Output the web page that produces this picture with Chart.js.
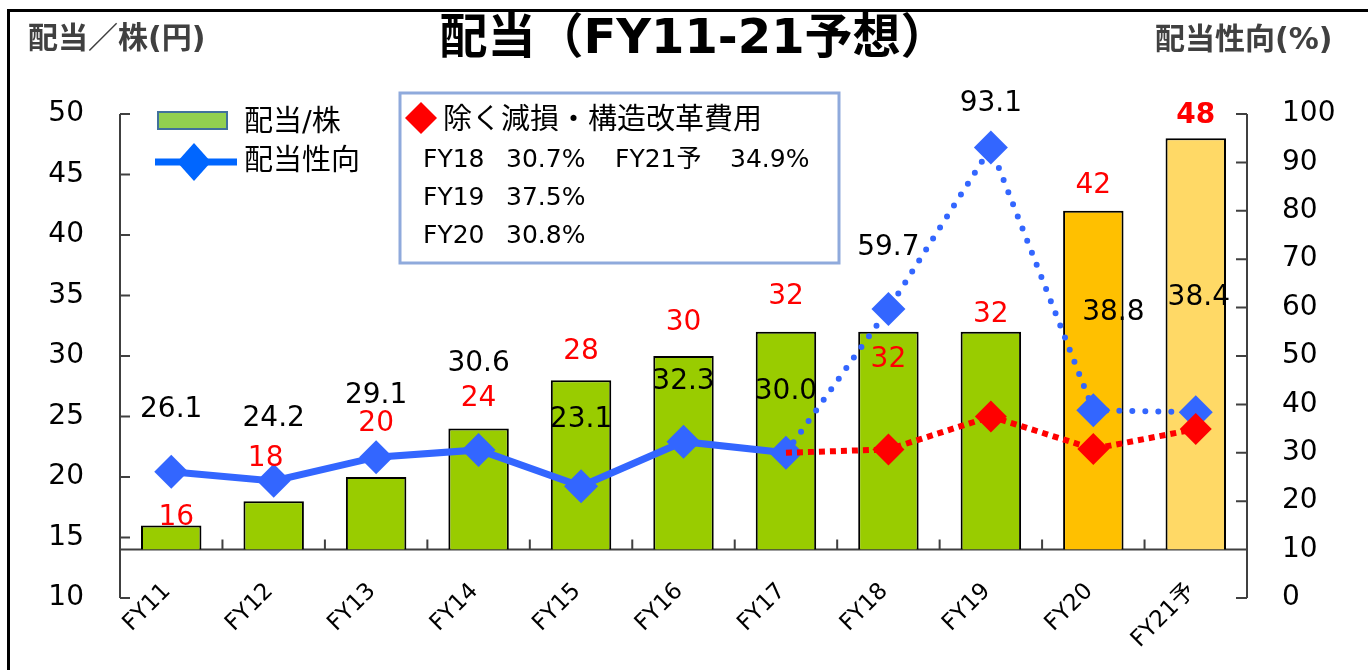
<!DOCTYPE html>
<html lang="ja">
<head>
<meta charset="utf-8">
<title>配当（FY11-21予想）</title>
<script src="https://cdn.jsdelivr.net/npm/chart.js@4.4.1/dist/chart.umd.min.js"></script>
<style>
  html, body { margin: 0; padding: 0; background: #fff; }
  #wrap { width: 1368px; height: 670px; }
</style>
</head>
<body>
<div id="wrap"><canvas id="dividendChart" width="1368" height="670"></canvas></div>
<script>
"use strict";

// data
const categories = ['FY11', 'FY12', 'FY13', 'FY14', 'FY15', 'FY16', 'FY17', 'FY18', 'FY19', 'FY20', 'FY21予'];
const dividend = [16, 18, 20, 24, 28, 30, 32, 32, 32, 42, 48];            // 配当/株 (円)
const payoutRatio = [26.1, 24.2, 29.1, 30.6, 23.1, 32.3, 30.0, 59.7, 93.1, 38.8, 38.4]; // 配当性向 (%)
const payoutExCharges = [null, null, null, null, null, null, 30.0, 30.7, 37.5, 30.8, 34.9]; // 除く減損・構造改革費用
const leftTicks = [10, 15, 20, 25, 30, 35, 40, 45, 50];
const rightTicks = [0, 10, 20, 30, 40, 50, 60, 70, 80, 90, 100];
const barBase = 14; // bars stand on the category axis (right axis 10%)

const noteTitle = '除く減損・構造改革費用';
const noteRows = [
  ['FY18', '30.7%', 'FY21予', '34.9%'],
  ['FY19', '37.5%'],
  ['FY20', '30.8%']
];

// label nudges (px) relative to bar top / point, like the hand placed Excel labels
const dividendLabelShift = [[5, -8], [-8, -42], [0, -53], [0, -30], [0, -28], [0, -33], [0, -35], [0, 28], [0, -17], [0, -25], [0, -22]];
const payoutLabelShift = [[0, -62], [0, -62], [0, -61], [0, -86], [0, -66], [0, -60], [0, -61], [0, -61], [0, -44], [20, -97], [3, -114]];

const FONT = "'DejaVu Sans', 'Noto Sans CJK JP', sans-serif";
const barColors = dividend.map((v, i) => i === 9 ? '#ffc000' : i === 10 ? '#ffd966' : '#99cc00');

Chart.defaults.font.family = FONT;

// axes are drawn by hand: Excel style inside ticks, category axis at the bar base
const axisLines = {
  id: 'axisLines',
  beforeDatasetsDraw(chart) {
    const { ctx, chartArea: area, scales: { x, y, y2 } } = chart;
    const baseY = y.getPixelForValue(barBase);
    ctx.save();
    ctx.strokeStyle = '#404040';
    ctx.lineWidth = 2;
    ctx.beginPath();
    ctx.moveTo(area.left, area.top);
    ctx.lineTo(area.left, area.bottom);
    leftTicks.forEach(v => {
      const py = y.getPixelForValue(v);
      ctx.moveTo(area.left, py);
      ctx.lineTo(area.left + 10, py);
    });
    ctx.moveTo(area.right, area.top);
    ctx.lineTo(area.right, area.bottom);
    rightTicks.forEach(v => {
      const py = y2.getPixelForValue(v);
      ctx.moveTo(area.right - 11, py);
      ctx.lineTo(area.right, py);
    });
    ctx.moveTo(area.left, baseY);
    ctx.lineTo(area.right, baseY);
    for (let i = 1; i < categories.length; i++) {
      const px = (x.getPixelForValue(i - 1) + x.getPixelForValue(i)) / 2;
      ctx.moveTo(px, baseY);
      ctx.lineTo(px, baseY - 10);
    }
    ctx.stroke();

    // category labels, rotated 45deg, ending under each category
    ctx.fillStyle = '#000';
    ctx.font = '23px ' + FONT;
    ctx.textAlign = 'right';
    ctx.textBaseline = 'middle';
    categories.forEach((cat, i) => {
      ctx.save();
      ctx.translate(x.getPixelForValue(i) - 4, baseY + 38);
      ctx.rotate(-Math.PI / 4);
      ctx.fillText(cat, 0, 0);
      ctx.restore();
    });
    ctx.restore();
  }
};

const valueLabels = {
  id: 'valueLabels',
  afterDatasetsDraw(chart) {
    const { ctx } = chart;
    const bars = chart.getDatasetMeta(0).data;
    const points = chart.getDatasetMeta(1).data;
    ctx.save();
    ctx.textAlign = 'center';
    ctx.textBaseline = 'middle';
    bars.forEach((bar, i) => {
      ctx.font = (i === dividend.length - 1 ? 'bold ' : '') + '28px ' + FONT;
      ctx.fillStyle = '#ff0000';
      ctx.fillText(String(dividend[i]), bar.x + dividendLabelShift[i][0], bar.y + dividendLabelShift[i][1]);
    });
    ctx.font = '28px ' + FONT;
    ctx.fillStyle = '#000';
    points.forEach((pt, i) => {
      ctx.fillText(payoutRatio[i].toFixed(1), pt.x + payoutLabelShift[i][0], pt.y + payoutLabelShift[i][1]);
    });
    ctx.restore();
  }
};

const diamond = (ctx, cx, cy, hw, hh, color) => {
  ctx.fillStyle = color;
  ctx.beginPath();
  ctx.moveTo(cx, cy - hh);
  ctx.lineTo(cx + hw, cy);
  ctx.lineTo(cx, cy + hh);
  ctx.lineTo(cx - hw, cy);
  ctx.closePath();
  ctx.fill();
};

const decorations = {
  id: 'decorations',
  afterDraw(chart) {
    const { ctx } = chart;
    ctx.save();
    // frame
    ctx.strokeStyle = '#000';
    ctx.lineWidth = 3;
    ctx.beginPath();
    ctx.moveTo(8.5, 670);
    ctx.lineTo(8.5, 10.5);
    ctx.lineTo(1368, 10.5);
    ctx.stroke();

    // titles
    ctx.textBaseline = 'middle';
    ctx.textAlign = 'center';
    ctx.fillStyle = '#000';
    ctx.font = 'bold 48px ' + FONT;
    ctx.fillText('配当（FY11-21予想）', 694, 41);
    ctx.textAlign = 'left';
    ctx.fillStyle = '#404040';
    ctx.font = 'bold 30px ' + FONT;
    ctx.fillText('配当／株(円)', 28, 40);
    ctx.fillText('配当性向(%)', 1155, 41);

    // legend
    ctx.fillStyle = '#92d050';
    ctx.fillRect(158, 112, 69, 17);
    ctx.strokeStyle = '#41719c';
    ctx.lineWidth = 2;
    ctx.strokeRect(158, 112, 69, 17);
    ctx.strokeStyle = '#0066ff';
    ctx.lineWidth = 7;
    ctx.beginPath();
    ctx.moveTo(155, 162);
    ctx.lineTo(237, 162);
    ctx.stroke();
    diamond(ctx, 194, 162, 17, 19, '#0066ff');
    ctx.fillStyle = '#000';
    ctx.font = '29px ' + FONT;
    ctx.fillText('配当/株', 244, 123);
    ctx.fillText('配当性向', 244, 162);

    // note box
    ctx.fillStyle = '#fff';
    ctx.fillRect(400, 93, 439, 170);
    ctx.strokeStyle = '#8faadc';
    ctx.lineWidth = 3;
    ctx.strokeRect(400, 93, 439, 170);
    diamond(ctx, 421, 118, 16, 16, '#ff0000');
    ctx.fillStyle = '#000';
    ctx.font = '29px ' + FONT;
    ctx.fillText(noteTitle, 443, 121);
    ctx.font = '25px ' + FONT;
    const cols = [423, 506, 615, 730];
    noteRows.forEach((row, r) => {
      row.forEach((txt, c) => ctx.fillText(txt, cols[c], 160 + r * 38));
    });
    ctx.restore();
  }
};

new Chart(document.getElementById('dividendChart'), {
  data: {
    labels: categories,
    datasets: [
      {
        type: 'bar',
        label: '配当/株',
        data: dividend,
        yAxisID: 'y',
        base: barBase,
        backgroundColor: barColors,
        borderColor: '#000',
        borderWidth: 2,
        categoryPercentage: 1,
        barPercentage: 0.59,
        order: 3
      },
      {
        type: 'line',
        label: '配当性向',
        data: payoutRatio,
        yAxisID: 'y2',
        borderColor: '#3366ff',
        borderWidth: 7,
        pointStyle: 'rectRot',
        pointRadius: 17,
        pointBackgroundColor: '#3366ff',
        pointBorderWidth: 0,
        segment: {
          borderDash: c => c.p0DataIndex >= 6 ? [0, 13] : undefined,
          borderWidth: c => c.p0DataIndex >= 6 ? 6 : undefined,
          borderCapStyle: c => c.p0DataIndex >= 6 ? 'round' : undefined
        },
        order: 2
      },
      {
        type: 'line',
        label: '除く減損・構造改革費用',
        data: payoutExCharges,
        yAxisID: 'y2',
        borderColor: '#ff0000',
        borderWidth: 6,
        borderDash: [6, 5],
        pointStyle: 'rectRot',
        pointRadius: c => c.dataIndex < 7 ? 0 : 16,
        pointBackgroundColor: '#ff0000',
        pointBorderWidth: 0,
        order: 1
      }
    ]
  },
  options: {
    responsive: false,
    devicePixelRatio: 1,
    animation: false,
    layout: { padding: { top: 114, left: 0, right: 0, bottom: 0 } },
    plugins: {
      legend: { display: false },
      title: { display: false },
      tooltip: { enabled: false }
    },
    scales: {
      x: {
        grid: { display: false },
        border: { display: false },
        ticks: { display: false },
        afterFit: s => { s.height = 72; }
      },
      y: {
        position: 'left',
        min: leftTicks[0],
        max: leftTicks[leftTicks.length - 1],
        grid: { display: false },
        border: { display: false },
        ticks: { font: { size: 28 }, color: '#000', padding: 28 },
        afterBuildTicks: s => { s.ticks = leftTicks.map(v => ({ value: v })); },
        afterFit: s => { s.width = 120; }
      },
      y2: {
        position: 'right',
        min: rightTicks[0],
        max: rightTicks[rightTicks.length - 1],
        grid: { display: false },
        border: { display: false },
        ticks: { font: { size: 28 }, color: '#000', padding: 27 },
        afterBuildTicks: s => { s.ticks = rightTicks.map(v => ({ value: v })); },
        afterFit: s => { s.width = 121; }
      }
    }
  },
  plugins: [axisLines, valueLabels, decorations]
});
</script>
</body>
</html>
